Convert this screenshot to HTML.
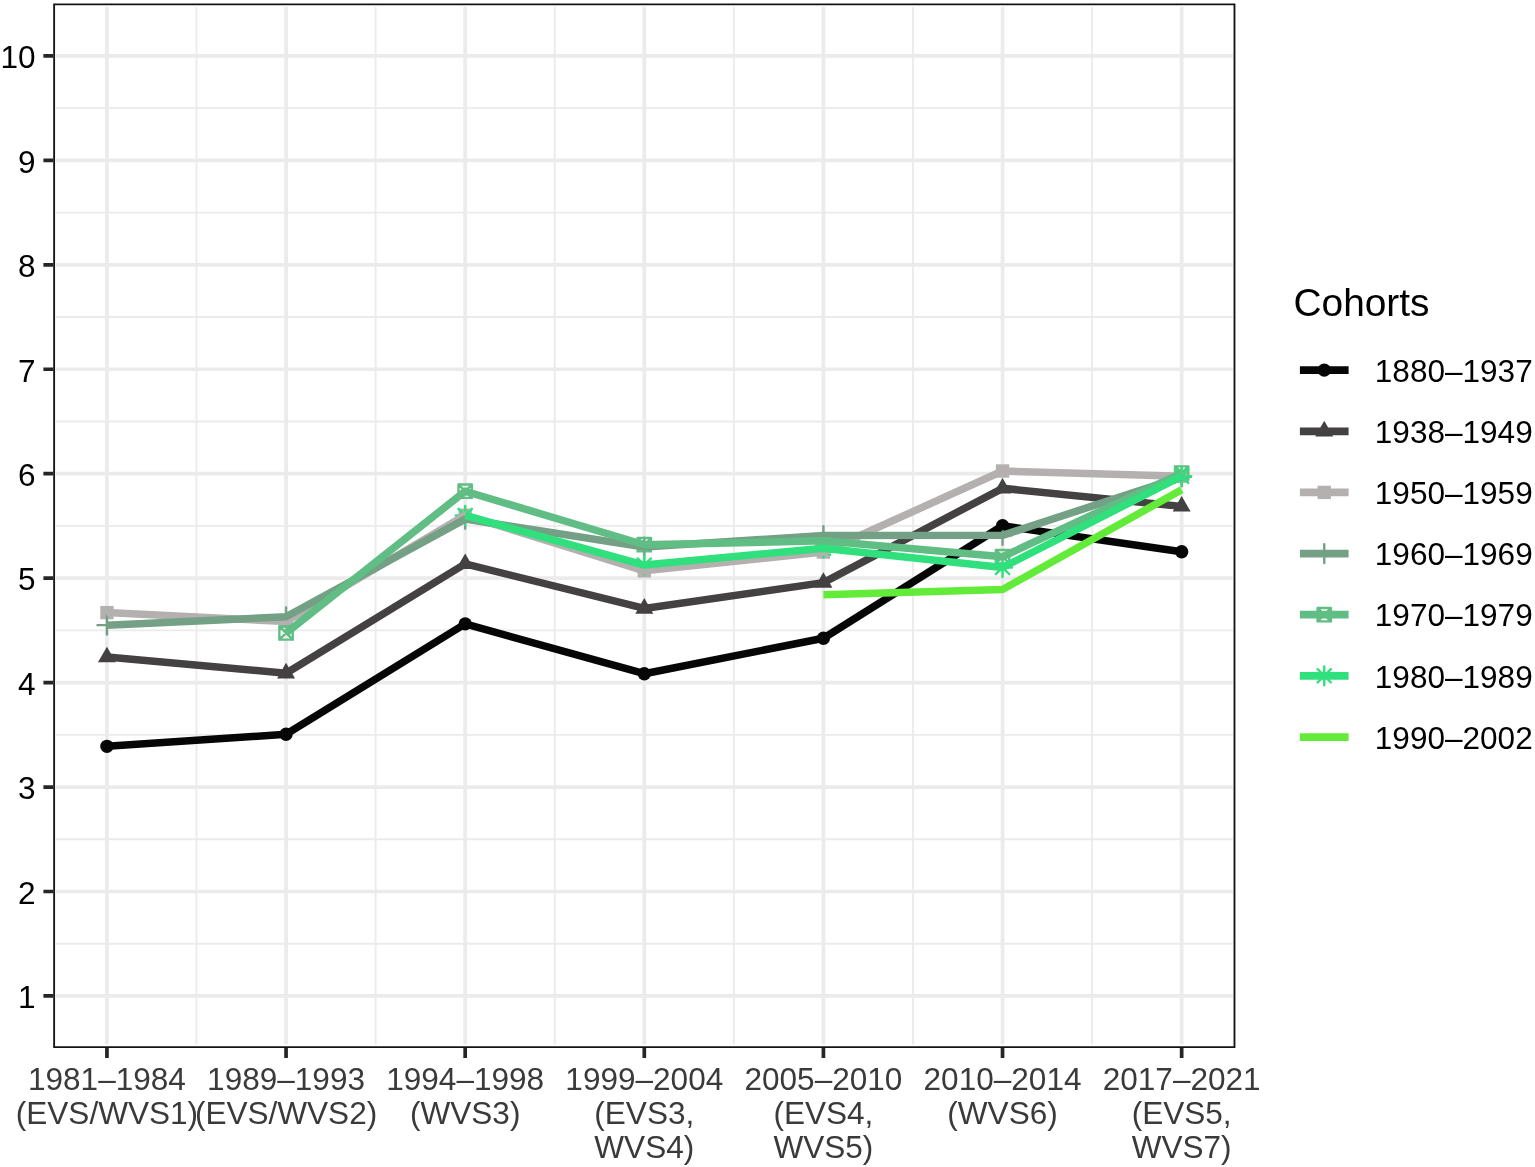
<!DOCTYPE html>
<html lang="en"><head><meta charset="utf-8"><title>Cohorts chart</title>
<style>html,body{margin:0;padding:0;background:#fff}body{width:1535px;height:1167px;overflow:hidden}svg{display:block}text{font-family:"Liberation Sans",sans-serif}</style></head><body>
<svg width="1535" height="1167" viewBox="0 0 1535 1167">
<rect width="1535" height="1167" fill="#fff"/>
<defs><clipPath id="pc"><rect x="53.2" y="3.4" width="1182.2" height="1044.7"/></clipPath></defs>
<path d="M55.9 943.73H1232.7M55.9 839.28H1232.7M55.9 734.83H1232.7M55.9 630.38H1232.7M55.9 525.92H1232.7M55.9 421.48H1232.7M55.9 317.02H1232.7M55.9 212.58H1232.7M55.9 108.12H1232.7M196.5 7V1044.5M375.62 7V1044.5M554.74 7V1044.5M733.86 7V1044.5M912.98 7V1044.5M1092.1 7V1044.5" stroke="#ebebeb" stroke-width="1.85" fill="none"/>
<path d="M55.9 995.95H1232.7M55.9 891.5H1232.7M55.9 787.05H1232.7M55.9 682.6H1232.7M55.9 578.15H1232.7M55.9 473.7H1232.7M55.9 369.25H1232.7M55.9 264.8H1232.7M55.9 160.35H1232.7M55.9 55.9H1232.7M106.94 7V1044.5M286.06 7V1044.5M465.18 7V1044.5M644.3 7V1044.5M823.42 7V1044.5M1002.54 7V1044.5M1181.66 7V1044.5" stroke="#ebebeb" stroke-width="3.7" fill="none"/>
<g clip-path="url(#pc)">
<circle cx="106.94" cy="746.31" r="6.68" fill="#060606"/>
<circle cx="286.06" cy="734.3" r="6.68" fill="#060606"/>
<circle cx="465.18" cy="623.9" r="6.68" fill="#060606"/>
<circle cx="644.3" cy="673.72" r="6.68" fill="#060606"/>
<circle cx="823.42" cy="638.21" r="6.68" fill="#060606"/>
<circle cx="1002.54" cy="525.72" r="6.68" fill="#060606"/>
<circle cx="1181.66" cy="551.72" r="6.68" fill="#060606"/>
<path d="M106.94 646.63L115.93 662.2L97.95 662.2Z" fill="#434141"/>
<path d="M286.06 662.82L295.05 678.39L277.07 678.39Z" fill="#434141"/>
<path d="M465.18 553.46L474.17 569.03L456.19 569.03Z" fill="#434141"/>
<path d="M644.3 598.06L653.29 613.63L635.31 613.63Z" fill="#434141"/>
<path d="M823.42 572.26L832.41 587.83L814.43 587.83Z" fill="#434141"/>
<path d="M1002.54 477.94L1011.53 493.51L993.55 493.51Z" fill="#434141"/>
<path d="M1181.66 496.01L1190.65 511.58L1172.67 511.58Z" fill="#434141"/>
<rect x="100.27" y="605.94" width="13.35" height="13.35" fill="#b4b0af"/>
<rect x="279.38" y="614.82" width="13.35" height="13.35" fill="#b4b0af"/>
<rect x="458.5" y="508.6" width="13.35" height="13.35" fill="#b4b0af"/>
<rect x="637.62" y="564.16" width="13.35" height="13.35" fill="#b4b0af"/>
<rect x="816.75" y="545.36" width="13.35" height="13.35" fill="#b4b0af"/>
<rect x="995.87" y="464.31" width="13.35" height="13.35" fill="#b4b0af"/>
<rect x="1174.99" y="469.64" width="13.35" height="13.35" fill="#b4b0af"/>
<path d="M97.5 625.15H116.38M106.94 615.71V634.59" fill="none" stroke="#74a085" stroke-width="2.4" stroke-linecap="round" stroke-linejoin="round"/>
<path d="M276.62 616.8H295.5M286.06 607.36V626.24" fill="none" stroke="#74a085" stroke-width="2.4" stroke-linecap="round" stroke-linejoin="round"/>
<path d="M455.74 519.14H474.62M465.18 509.7V528.58" fill="none" stroke="#74a085" stroke-width="2.4" stroke-linecap="round" stroke-linejoin="round"/>
<path d="M634.86 547.02H653.74M644.3 537.58V556.46" fill="none" stroke="#74a085" stroke-width="2.4" stroke-linecap="round" stroke-linejoin="round"/>
<path d="M813.98 535.53H832.86M823.42 526.09V544.97" fill="none" stroke="#74a085" stroke-width="2.4" stroke-linecap="round" stroke-linejoin="round"/>
<path d="M993.1 535.33H1011.98M1002.54 525.89V544.77" fill="none" stroke="#74a085" stroke-width="2.4" stroke-linecap="round" stroke-linejoin="round"/>
<path d="M1172.22 476.83H1191.1M1181.66 467.39V486.27" fill="none" stroke="#74a085" stroke-width="2.4" stroke-linecap="round" stroke-linejoin="round"/>
<path d="M279.38 626.31H292.74V639.66H279.38ZM279.38 626.31L292.74 639.66M279.38 639.66L292.74 626.31" fill="none" stroke="#60bd83" stroke-width="2.4" stroke-linecap="round" stroke-linejoin="round"/>
<path d="M458.5 484.57H471.86V497.92H458.5ZM458.5 484.57L471.86 497.92M458.5 497.92L471.86 484.57" fill="none" stroke="#60bd83" stroke-width="2.4" stroke-linecap="round" stroke-linejoin="round"/>
<path d="M637.62 538.05H650.97V551.4H637.62ZM637.62 538.05L650.97 551.4M637.62 551.4L650.97 538.05" fill="none" stroke="#60bd83" stroke-width="2.4" stroke-linecap="round" stroke-linejoin="round"/>
<path d="M816.75 534.19H830.1V547.54H816.75ZM816.75 534.19L830.1 547.54M816.75 547.54L830.1 534.19" fill="none" stroke="#60bd83" stroke-width="2.4" stroke-linecap="round" stroke-linejoin="round"/>
<path d="M995.87 550.06H1009.21V563.41H995.87ZM995.87 550.06L1009.21 563.41M995.87 563.41L1009.21 550.06" fill="none" stroke="#60bd83" stroke-width="2.4" stroke-linecap="round" stroke-linejoin="round"/>
<path d="M1174.99 466.4H1188.34V479.75H1174.99ZM1174.99 466.4L1188.34 479.75M1174.99 479.75L1188.34 466.4" fill="none" stroke="#60bd83" stroke-width="2.4" stroke-linecap="round" stroke-linejoin="round"/>
<path d="M458.5 508.81L471.86 522.15M458.5 522.15L471.86 508.81M455.74 515.48H474.62M465.18 506.04V524.92" fill="none" stroke="#2fe07c" stroke-width="2.4" stroke-linecap="round" stroke-linejoin="round"/>
<path d="M637.62 558.42L650.97 571.77M637.62 571.77L650.97 558.42M634.86 565.09H653.74M644.3 555.65V574.53" fill="none" stroke="#2fe07c" stroke-width="2.4" stroke-linecap="round" stroke-linejoin="round"/>
<path d="M816.75 541.5L830.1 554.85M816.75 554.85L830.1 541.5M813.98 548.17H832.86M823.42 538.73V557.61" fill="none" stroke="#2fe07c" stroke-width="2.4" stroke-linecap="round" stroke-linejoin="round"/>
<path d="M995.87 560.82L1009.21 574.17M995.87 574.17L1009.21 560.82M993.1 567.5H1011.98M1002.54 558.06V576.94" fill="none" stroke="#2fe07c" stroke-width="2.4" stroke-linecap="round" stroke-linejoin="round"/>
<path d="M1174.99 469.53L1188.34 482.88M1174.99 482.88L1188.34 469.53M1172.22 476.21H1191.1M1181.66 466.77V485.65" fill="none" stroke="#2fe07c" stroke-width="2.4" stroke-linecap="round" stroke-linejoin="round"/>
<path d="M106.94 746.31L286.06 734.3L465.18 623.9L644.3 673.72L823.42 638.21L1002.54 525.72L1181.66 551.72" fill="none" stroke="#060606" stroke-width="7.5" stroke-linejoin="round" stroke-linecap="butt"/>
<path d="M106.94 657.01L286.06 673.2L465.18 563.84L644.3 608.44L823.42 582.64L1002.54 488.32L1181.66 506.39" fill="none" stroke="#434141" stroke-width="7.5" stroke-linejoin="round" stroke-linecap="butt"/>
<path d="M106.94 612.62L286.06 621.5L465.18 515.27L644.3 570.84L823.42 552.04L1002.54 470.98L1181.66 476.31" fill="none" stroke="#b4b0af" stroke-width="7.5" stroke-linejoin="round" stroke-linecap="butt"/>
<path d="M106.94 625.15L286.06 616.8L465.18 519.14L644.3 547.02L823.42 535.53L1002.54 535.33L1181.66 476.83" fill="none" stroke="#74a085" stroke-width="7.5" stroke-linejoin="round" stroke-linecap="butt"/>
<path d="M286.06 632.99L465.18 491.25L644.3 544.73L823.42 540.86L1002.54 556.74L1181.66 473.07" fill="none" stroke="#60bd83" stroke-width="7.5" stroke-linejoin="round" stroke-linecap="butt"/>
<path d="M465.18 515.48L644.3 565.09L823.42 548.17L1002.54 567.5L1181.66 476.21" fill="none" stroke="#2fe07c" stroke-width="7.5" stroke-linejoin="round" stroke-linecap="butt"/>
<path d="M823.42 594.65L1002.54 589.43L1181.66 489.68" fill="none" stroke="#62eb38" stroke-width="7.5" stroke-linejoin="round" stroke-linecap="butt"/>
</g>
<rect x="53.2" y="3.4" width="1182.2" height="1044.7" fill="none" stroke="#141414" stroke-width="3.7" clip-path="url(#pc)"/>
<path d="M43.4 995.95H53.2M43.4 891.5H53.2M43.4 787.05H53.2M43.4 682.6H53.2M43.4 578.15H53.2M43.4 473.7H53.2M43.4 369.25H53.2M43.4 264.8H53.2M43.4 160.35H53.2M43.4 55.9H53.2M106.94 1048.1V1057.9M286.06 1048.1V1057.9M465.18 1048.1V1057.9M644.3 1048.1V1057.9M823.42 1048.1V1057.9M1002.54 1048.1V1057.9M1181.66 1048.1V1057.9" stroke="#262626" stroke-width="3.7" fill="none"/>
<g font-size="31.55" fill="#000" text-anchor="end">
<text x="35.5" y="1008.25">1</text>
<text x="35.5" y="903.8">2</text>
<text x="35.5" y="799.35">3</text>
<text x="35.5" y="694.9">4</text>
<text x="35.5" y="590.45">5</text>
<text x="35.5" y="486">6</text>
<text x="35.5" y="381.55">7</text>
<text x="35.5" y="277.1">8</text>
<text x="35.5" y="172.65">9</text>
<text x="35.5" y="68.2">10</text>
</g>
<g font-size="31.55" fill="#3a3a3a" text-anchor="middle">
<text x="106.94" y="1090.4">1981–1984</text>
<text x="106.94" y="1124">(EVS/WVS1)</text>
<text x="286.06" y="1090.4">1989–1993</text>
<text x="286.06" y="1124">(EVS/WVS2)</text>
<text x="465.18" y="1090.4">1994–1998</text>
<text x="465.18" y="1124">(WVS3)</text>
<text x="644.3" y="1090.4">1999–2004</text>
<text x="644.3" y="1124">(EVS3,</text>
<text x="644.3" y="1157.6">WVS4)</text>
<text x="823.42" y="1090.4">2005–2010</text>
<text x="823.42" y="1124">(EVS4,</text>
<text x="823.42" y="1157.6">WVS5)</text>
<text x="1002.54" y="1090.4">2010–2014</text>
<text x="1002.54" y="1124">(WVS6)</text>
<text x="1181.66" y="1090.4">2017–2021</text>
<text x="1181.66" y="1124">(EVS5,</text>
<text x="1181.66" y="1157.6">WVS7)</text>
</g>
<text x="1293.5" y="316.4" font-size="38.85" fill="#000">Cohorts</text>
<circle cx="1324.25" cy="370.1" r="6.68" fill="#060606"/>
<path d="M1299.9 370.1H1348.6" stroke="#060606" stroke-width="7.75" fill="none"/>
<text x="1374.8" y="381.8" font-size="31.55" fill="#000">1880–1937</text>
<path d="M1324.25 420.87L1333.24 436.44L1315.26 436.44Z" fill="#434141"/>
<path d="M1299.9 431.25H1348.6" stroke="#434141" stroke-width="7.75" fill="none"/>
<text x="1374.8" y="442.95" font-size="31.55" fill="#000">1938–1949</text>
<rect x="1317.58" y="485.73" width="13.35" height="13.35" fill="#b4b0af"/>
<path d="M1299.9 492.4H1348.6" stroke="#b4b0af" stroke-width="7.75" fill="none"/>
<text x="1374.8" y="504.1" font-size="31.55" fill="#000">1950–1959</text>
<path d="M1314.81 553.55H1333.69M1324.25 544.11V562.99" fill="none" stroke="#74a085" stroke-width="2.4" stroke-linecap="round" stroke-linejoin="round"/>
<path d="M1299.9 553.55H1348.6" stroke="#74a085" stroke-width="7.75" fill="none"/>
<text x="1374.8" y="565.25" font-size="31.55" fill="#000">1960–1969</text>
<path d="M1317.58 608.03H1330.92V621.38H1317.58ZM1317.58 608.03L1330.92 621.38M1317.58 621.38L1330.92 608.03" fill="none" stroke="#60bd83" stroke-width="2.4" stroke-linecap="round" stroke-linejoin="round"/>
<path d="M1299.9 614.7H1348.6" stroke="#60bd83" stroke-width="7.75" fill="none"/>
<text x="1374.8" y="626.4" font-size="31.55" fill="#000">1970–1979</text>
<path d="M1317.58 669.18L1330.92 682.52M1317.58 682.52L1330.92 669.18M1314.81 675.85H1333.69M1324.25 666.41V685.29" fill="none" stroke="#2fe07c" stroke-width="2.4" stroke-linecap="round" stroke-linejoin="round"/>
<path d="M1299.9 675.85H1348.6" stroke="#2fe07c" stroke-width="7.75" fill="none"/>
<text x="1374.8" y="687.55" font-size="31.55" fill="#000">1980–1989</text>
<path d="M1299.9 737H1348.6" stroke="#62eb38" stroke-width="7.75" fill="none"/>
<text x="1374.8" y="748.7" font-size="31.55" fill="#000">1990–2002</text>
</svg></body></html>
